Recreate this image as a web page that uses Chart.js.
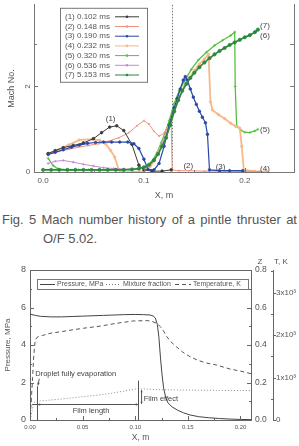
<!DOCTYPE html>
<html>
<head>
<meta charset="utf-8">
<script src="https://cdn.jsdelivr.net/npm/chart.js@4.4.0/dist/chart.umd.min.js"></script>
<style>
body{margin:0;width:299px;height:446px;overflow:hidden;background:#fff;position:relative;font-family:"Liberation Sans",Arial,sans-serif;color:#555}
canvas{position:absolute;left:0}
#top{top:0}
#bot{top:250px}
.cap{position:absolute;font-size:13px;line-height:15px;color:#555}
</style>
</head>
<body>
<canvas id="top" width="299" height="202"></canvas>
<div class="cap" style="left:2px;top:212px;width:295px;text-align:justify;text-align-last:justify">Fig. 5 Mach number history of a pintle thruster at</div>
<div class="cap" style="left:43px;top:231px">O/F 5.02.</div>
<canvas id="bot" width="299" height="196"></canvas>
<script>
// ---- top chart: Mach number vs X ----
const topXTicks = [0, 0.1, 0.2];
const topXMinor = [0.05, 0.15];
const topYTicks = [0, 2];
const topYMinor = [1, 3];
const names = ['(1) 0.102 ms', '(2) 0.148 ms', '(3) 0.190 ms', '(4) 0.232 ms', '(5) 0.320 ms', '(6) 0.536 ms', '(7) 5.153 ms'];

const s1x = [0.005,0.012,0.02,0.03,0.04,0.05,0.058,0.066,0.073,0.08,0.088,0.095,0.1,0.108,0.118,0.127];
const s1y = [0.43,0.5,0.57,0.62,0.68,0.78,0.92,1.05,1.08,0.97,0.65,0.16,0.05,0.02,0.02,0.05];

const s2x = [0.005,0.015,0.025,0.035,0.045,0.055,0.065,0.075,0.085,0.093,0.1,0.105,0.11,0.115,0.12,0.124,0.127,0.128,0.135,0.145,0.16,0.18,0.2,0.215];
const s2y = [0.43,0.48,0.53,0.58,0.62,0.66,0.72,0.8,0.92,1.08,1.2,1.12,0.95,0.84,0.9,1.1,1.2,0.05,0.03,0.03,0.02,0.02,0.01,0.01];

const s3x = [0.005,0.012,0.02,0.028,0.036,0.044,0.052,0.06,0.068,0.076,0.084,0.09,0.095,0.1,0.104,0.11,0.115,0.12,0.125,0.13,0.133,0.136,0.139,0.141,0.143,0.146,0.149,0.152,0.155,0.158,0.161,0.163,0.165,0.175,0.185,0.198];
const s3y = [0.41,0.46,0.52,0.58,0.63,0.67,0.69,0.7,0.7,0.7,0.7,0.66,0.55,0.3,0.06,0.05,0.2,0.6,1.1,1.5,1.72,1.94,2.15,2.23,2.15,1.94,1.75,1.58,1.42,1.28,1.15,0.88,0.05,0.03,0.03,0.03];

const s4x = [0.005,0.015,0.025,0.036,0.049,0.056,0.062,0.067,0.071,0.075,0.078,0.09,0.1,0.106,0.11,0.114,0.118,0.122,0.126,0.13,0.135,0.14,0.145,0.15,0.155,0.16,0.164,0.166,0.168,0.174,0.18,0.186,0.191,0.195,0.197,0.199,0.21,0.222];
const s4y = [0.43,0.52,0.63,0.75,0.77,0.74,0.66,0.5,0.35,0.05,-0.01,0.0,0.02,0.12,0.25,0.45,0.65,0.85,1.1,1.4,1.75,2.0,2.2,2.38,2.52,2.64,2.75,1.64,1.45,1.34,1.25,1.14,1.07,1.03,0.6,0.05,0.02,0.01];

const s5x = [0.005,0.01,0.015,0.025,0.035,0.045,0.055,0.065,0.075,0.085,0.095,0.102,0.108,0.113,0.117,0.121,0.125,0.13,0.135,0.14,0.147,0.154,0.162,0.17,0.178,0.186,0.19,0.1905,0.192,0.196,0.2,0.205,0.21,0.213];
const s5y = [0.32,0.15,0.07,0.05,0.05,0.05,0.05,0.05,0.05,0.06,0.07,0.12,0.25,0.45,0.68,0.92,1.2,1.6,1.9,2.12,2.4,2.62,2.8,2.96,3.08,3.19,3.27,2.0,1.07,0.98,0.93,0.92,0.96,1.0];

const s6x = [0.005,0.012,0.02,0.03,0.04,0.05,0.06,0.07,0.08,0.09,0.1,0.105,0.11,0.114,0.118,0.122,0.126,0.13,0.134,0.138,0.142,0.146,0.15,0.155,0.16,0.165,0.17,0.175,0.18,0.185,0.19,0.195,0.2,0.205,0.21,0.213];
const s6y = [0.2,0.25,0.27,0.23,0.18,0.14,0.1,0.08,0.07,0.07,0.1,0.15,0.27,0.43,0.66,0.9,1.17,1.42,1.66,1.87,2.04,2.19,2.32,2.45,2.57,2.67,2.76,2.84,2.91,2.98,3.04,3.1,3.16,3.21,3.26,3.31];

const s7x = [0.0,0.008,0.016,0.024,0.032,0.04,0.048,0.056,0.064,0.072,0.08,0.088,0.095,0.1,0.105,0.11,0.114,0.118,0.122,0.126,0.13,0.134,0.138,0.142,0.146,0.15,0.155,0.16,0.165,0.17,0.175,0.18,0.185,0.19,0.195,0.2,0.205,0.21,0.213];
const s7y = [0.05,0.05,0.05,0.05,0.05,0.05,0.05,0.05,0.05,0.05,0.05,0.06,0.08,0.11,0.17,0.28,0.42,0.6,0.8,1.1,1.42,1.68,1.9,2.06,2.2,2.32,2.45,2.56,2.66,2.75,2.83,2.9,2.97,3.03,3.09,3.15,3.2,3.27,3.33];

// curve labels
const lblText = ['(1)', '(2)', '(3)', '(4)', '(5)', '(6)', '(7)'];
const lblX = [0.067, 0.144, 0.176, 0.22, 0.22, 0.22, 0.22];
const lblY = [1.25, 0.14, 0.11, 0.07, 0.98, 3.18, 3.41];
const shockX = 0.128;

// ---- bottom chart: pressure, mixture fraction, temperature ----
const botXTicks = [0, 0.05, 0.1, 0.15, 0.2];
const botXMinor = [0.025, 0.075, 0.125, 0.175];
const pTicks = [0, 2, 4, 6, 8];
const pMinor = [1, 3, 5, 7];
const zTicks = [0, 0.2, 0.4, 0.6, 0.8];
const zMinor = [0.1, 0.3, 0.5, 0.7];
const tTicks = [0, 1000, 2000, 3000];
const tMinor = [500, 1500, 2500, 3500];

const presX = [0,0.005,0.01,0.02,0.03,0.04,0.05,0.06,0.07,0.08,0.09,0.1,0.108,0.114,0.117,0.119,0.121,0.1225,0.124,0.1255,0.127,0.129,0.131,0.135,0.14,0.146,0.152,0.16,0.17,0.18,0.19,0.2,0.21];
const presY = [5.65,5.58,5.53,5.5,5.5,5.52,5.54,5.56,5.58,5.6,5.62,5.63,5.62,5.6,5.55,5.45,5.1,4.4,3.3,2.4,1.7,1.2,0.92,0.7,0.53,0.38,0.27,0.18,0.12,0.08,0.05,0.03,0.02];

const mixX = [0,0.001,0.002,0.003,0.004,0.006,0.01,0.02,0.03,0.04,0.05,0.06,0.07,0.08,0.09,0.1,0.104,0.11,0.12,0.14,0.16,0.18,0.2,0.21];
const mixY = [0,0.02,0.05,0.08,0.095,0.1,0.102,0.107,0.112,0.118,0.124,0.13,0.137,0.145,0.155,0.165,0.167,0.165,0.162,0.16,0.159,0.158,0.157,0.157];

const tempX = [0,0.0008,0.0016,0.0025,0.0033,0.0042,0.005,0.0065,0.008,0.012,0.019,0.03,0.04,0.051,0.067,0.082,0.098,0.111,0.116,0.12,0.124,0.127,0.13,0.134,0.139,0.145,0.152,0.16,0.168,0.177,0.19,0.2,0.206,0.21];
const tempY = [100,300,630,1000,1410,1700,1880,1940,1960,1990,2040,2080,2120,2160,2210,2275,2330,2340,2320,2280,2195,2090,1960,1840,1725,1600,1490,1400,1340,1295,1200,1150,1115,1090];

// annotation anchors (data units)
const dropX = 0.0066, filmEndX = 0.103, filmArrowP = 0.85;

Chart.defaults.font.family = "'Liberation Sans', Arial, sans-serif";
Chart.defaults.color = '#555';

function pts(xs, ys) { return xs.map((x, i) => ({x: x, y: ys[i]})); }

function tickMarks(ctx, scale, vals, len, dir) {
  ctx.beginPath();
  vals.forEach(v => {
    const p = Math.round(scale.getPixelForValue(v)) + 0.5;
    if (scale.isHorizontal()) {
      ctx.moveTo(p, scale.top); ctx.lineTo(p, scale.top + dir * len);
    } else {
      const x0 = scale.position === 'left' ? scale.right : scale.left;
      ctx.moveTo(x0, p); ctx.lineTo(x0 + dir * len, p);
    }
  });
  ctx.stroke();
}

function arrowHead(ctx, x, y, ang, s) {
  ctx.beginPath();
  ctx.moveTo(x, y);
  ctx.lineTo(x - s * Math.cos(ang - 0.45), y - s * Math.sin(ang - 0.45));
  ctx.lineTo(x - s * Math.cos(ang + 0.45), y - s * Math.sin(ang + 0.45));
  ctx.closePath();
  ctx.fill();
}

const styles = [
  {c: '#3a3a3a', w: 1, r: 1.3, ps: 'circle'},
  {c: '#f2907c', w: 1, r: 1.3, ps: 'crossRot'},
  {c: '#2848a8', w: 1.2, r: 1.3, ps: 'circle'},
  {c: '#f7b989', w: 1.8, r: 1.2, ps: 'circle'},
  {c: '#55c040', w: 1.3, r: 1.4, ps: 'cross'},
  {c: '#c58ad8', w: 1, r: 0.8, ps: 'circle'},
  {c: '#2a8a3c', w: 1.6, r: 1.6, ps: 'circle'}
];
const topData = [pts(s1x, s1y), pts(s2x, s2y), pts(s3x, s3y), pts(s4x, s4y), pts(s5x, s5y), pts(s6x, s6y), pts(s7x, s7y)];
const drawOrder = [2, 4, 1, 5, 6, 3, 0];

const topDecor = {
  id: 'topDecor',
  beforeDatasetsDraw(chart) {
    const {ctx, chartArea: a, scales: {x}} = chart;
    const dx = Math.round(x.getPixelForValue(shockX)) + 0.5;
    ctx.save();
    ctx.strokeStyle = '#777'; ctx.lineWidth = 1; ctx.setLineDash([1.5, 1.5]);
    ctx.beginPath(); ctx.moveTo(dx, a.top); ctx.lineTo(dx, a.bottom); ctx.stroke();
    ctx.restore();
  },
  afterDraw(chart) {
    const {ctx, chartArea: a, scales: {x, y, yr}} = chart;
    ctx.save();
    ctx.strokeStyle = '#777'; ctx.lineWidth = 1;
    tickMarks(ctx, x, topXTicks, 4, -1);
    tickMarks(ctx, x, topXMinor, 2, -1);
    tickMarks(ctx, y, topYTicks, 4, 1);
    tickMarks(ctx, y, topYMinor, 3, 1);
    tickMarks(ctx, yr, [1, 2, 3], 4, -1);
    // y tick labels
    ctx.fillStyle = '#555'; ctx.font = "8px 'Liberation Sans', Arial";
    ctx.textAlign = 'center'; ctx.textBaseline = 'middle';
    ctx.fillText('0', a.left - 6, y.getPixelForValue(0));
    ctx.save();
    ctx.translate(a.left - 6, y.getPixelForValue(2));
    ctx.rotate(-Math.PI / 2);
    ctx.fillText('2', 0, 0);
    ctx.restore();
    // curve labels
    ctx.fillStyle = '#444';
    lblText.forEach((t, i) => ctx.fillText(t, x.getPixelForValue(lblX[i]), y.getPixelForValue(lblY[i])));
    // legend box
    const lx = a.left + 26, ly = a.top + 3, lw = 87, lh = 74;
    ctx.fillStyle = '#fff';
    ctx.fillRect(lx, ly, lw, lh);
    ctx.strokeStyle = '#777';
    ctx.strokeRect(lx + 0.5, ly + 0.5, lw, lh);
    ctx.textAlign = 'left';
    names.forEach((n, i) => {
      const yy = ly + 9 + i * 9.7;
      const st = styles[i];
      ctx.fillStyle = '#555';
      ctx.fillText(n, lx + 5, yy);
      ctx.strokeStyle = st.c; ctx.fillStyle = st.c; ctx.lineWidth = 1;
      ctx.beginPath(); ctx.moveTo(lx + 55, yy); ctx.lineTo(lx + 79, yy); ctx.stroke();
      ctx.beginPath(); ctx.arc(lx + 67, yy, 1.3, 0, Math.PI * 2); ctx.fill();
    });
    ctx.restore();
  }
};

new Chart(document.getElementById('top'), {
  type: 'line',
  data: {
    datasets: topData.map((d, i) => ({
      label: names[i],
      data: d,
      borderColor: styles[i].c,
      backgroundColor: styles[i].c,
      borderWidth: styles[i].w,
      pointRadius: styles[i].r,
      pointStyle: styles[i].ps,
      pointBorderWidth: 0.8,
      tension: 0,
      order: drawOrder[i]
    }))
  },
  options: {
    responsive: false,
    animation: false,
    layout: {padding: 0},
    plugins: {legend: {display: false}, tooltip: {enabled: false}},
    scales: {
      x: {
        type: 'linear', min: -0.009, max: 0.249,
        afterBuildTicks: s => { s.ticks = topXTicks.map(v => ({value: v})); },
        ticks: {font: {size: 8}, padding: 4, callback: v => v.toFixed(1)},
        grid: {display: false, drawTicks: false},
        border: {color: '#777'},
        title: {display: true, text: 'X, m', font: {size: 9}, padding: {top: 2, bottom: 1}},
        afterFit: s => { s.height = 30; }
      },
      y: {
        min: 0, max: 3.91,
        ticks: {display: false},
        grid: {display: false, drawTicks: false},
        border: {color: '#777'},
        title: {display: true, text: 'Mach No.', font: {size: 9}, padding: {top: 6, bottom: 0}},
        afterFit: s => { s.width = 34; }
      },
      yr: {
        position: 'right', min: 0, max: 3.91,
        ticks: {display: false},
        grid: {display: false, drawTicks: false},
        border: {color: '#777'},
        afterFit: s => { s.width = 2; }
      }
    }
  },
  plugins: [topDecor]
});

const botDecor = {
  id: 'botDecor',
  afterDraw(chart) {
    const {ctx, chartArea: a, scales: {x, p, z, t}} = chart;
    ctx.save();
    ctx.strokeStyle = '#666'; ctx.lineWidth = 1;
    // top frame
    ctx.beginPath(); ctx.moveTo(a.left, a.top + 0.5); ctx.lineTo(a.right, a.top + 0.5); ctx.stroke();
    tickMarks(ctx, x, botXTicks, 4, -1);
    tickMarks(ctx, x, botXMinor, 2, -1);
    tickMarks(ctx, p, pTicks, 4, 1);
    tickMarks(ctx, p, pMinor, 2, 1);
    tickMarks(ctx, z, zTicks, 4, -1);
    tickMarks(ctx, z, zMinor, 2, -1);
    tickMarks(ctx, t, tTicks, 3, 1);
    tickMarks(ctx, t, tMinor, 2, -1);
    // axis headings above right axes
    ctx.fillStyle = '#555'; ctx.font = "8px 'Liberation Sans', Arial";
    ctx.textAlign = 'center'; ctx.textBaseline = 'middle';
    ctx.fillText('Z', z.left + 9, a.top - 8);
    ctx.fillText('T, K', t.left + 8, a.top - 8);
    // legend
    const lx = a.left + 7, ly = a.top + 9, lw = a.right - a.left - 10, lh = 10;
    ctx.strokeStyle = '#777';
    ctx.strokeRect(lx + 0.5, ly + 0.5, lw, lh);
    const my = ly + 5.5;
    ctx.font = "7px 'Liberation Sans', Arial";
    ctx.textAlign = 'left';
    ctx.fillStyle = '#555';
    ctx.strokeStyle = '#444'; ctx.setLineDash([]);
    ctx.beginPath(); ctx.moveTo(a.left + 10, my); ctx.lineTo(a.left + 25, my); ctx.stroke();
    ctx.fillText('Pressure, MPa', a.left + 27, my);
    ctx.strokeStyle = '#777'; ctx.setLineDash([1, 2]);
    ctx.beginPath(); ctx.moveTo(a.left + 76, my); ctx.lineTo(a.left + 91, my); ctx.stroke();
    ctx.fillText('Mixture fraction', a.left + 93, my);
    ctx.strokeStyle = '#555'; ctx.setLineDash([4, 3]);
    ctx.beginPath(); ctx.moveTo(a.left + 145, my); ctx.lineTo(a.left + 161, my); ctx.stroke();
    ctx.fillText('Temperature, K', a.left + 163, my);
    ctx.setLineDash([]);
    // film annotations
    ctx.strokeStyle = '#555'; ctx.fillStyle = '#555'; ctx.lineWidth = 1;
    const x1 = Math.round(x.getPixelForValue(dropX)) + 0.5;
    const x2 = Math.round(x.getPixelForValue(filmEndX)) + 0.5;
    const yb = p.getPixelForValue(0);
    ctx.beginPath();
    ctx.moveTo(x1, p.getPixelForValue(1.8)); ctx.lineTo(x1, yb);
    ctx.moveTo(x2, p.getPixelForValue(2.1)); ctx.lineTo(x2, yb);
    ctx.stroke();
    const ya = Math.round(p.getPixelForValue(filmArrowP)) + 0.5;
    const x0 = x.getPixelForValue(0.002);
    ctx.beginPath(); ctx.moveTo(x0, ya); ctx.lineTo(x2, ya); ctx.stroke();
    arrowHead(ctx, x1, ya, Math.PI, 3);
    arrowHead(ctx, x2, ya, 0, 3);
    // film effect small arrow
    const xe = x.getPixelForValue(0.106);
    const ye1 = p.getPixelForValue(1.6), ye2 = p.getPixelForValue(filmArrowP);
    ctx.beginPath(); ctx.moveTo(xe, ye1); ctx.lineTo(xe, ye2); ctx.stroke();
    arrowHead(ctx, xe, ye1, -Math.PI / 2, 2.5);
    arrowHead(ctx, xe, ye2, Math.PI / 2, 2.5);
    // droplet arrow
    const xs = x.getPixelForValue(0.0088), ys = p.getPixelForValue(2.2);
    const ye = p.getPixelForValue(1.85);
    ctx.beginPath(); ctx.moveTo(xs, ys); ctx.lineTo(x1 + 0.5, ye); ctx.stroke();
    arrowHead(ctx, x1 + 0.5, ye, Math.atan2(ye - ys, x1 + 0.5 - xs), 3);
    // texts
    ctx.font = "7.5px 'Liberation Sans', Arial";
    ctx.fillStyle = '#444';
    ctx.textAlign = 'left';
    ctx.fillText('Droplet fully evaporation', x.getPixelForValue(0.005), p.getPixelForValue(2.45));
    ctx.fillText('Film effect', x.getPixelForValue(0.108), p.getPixelForValue(1.12));
    ctx.textAlign = 'center';
    ctx.fillText('Film length', x.getPixelForValue(0.058), p.getPixelForValue(0.48));
    ctx.restore();
  }
};

new Chart(document.getElementById('bot'), {
  type: 'line',
  data: {
    datasets: [
      {label: 'Pressure, MPa', data: pts(presX, presY), yAxisID: 'p', borderColor: '#444', borderWidth: 1, pointRadius: 0, tension: 0},
      {label: 'Mixture fraction', data: pts(mixX, mixY), yAxisID: 'z', borderColor: '#888', borderWidth: 1, borderDash: [1, 2], pointRadius: 0, tension: 0},
      {label: 'Temperature, K', data: pts(tempX, tempY), yAxisID: 't', borderColor: '#555', borderWidth: 1, borderDash: [4, 3], pointRadius: 0, tension: 0}
    ]
  },
  options: {
    responsive: false,
    animation: false,
    layout: {padding: {top: 20, left: 0, right: 0, bottom: 0}},
    plugins: {legend: {display: false}, tooltip: {enabled: false}},
    scales: {
      x: {
        type: 'linear', min: 0, max: 0.21,
        afterBuildTicks: s => { s.ticks = botXTicks.map(v => ({value: v})); },
        ticks: {font: {size: 6}, padding: 4, callback: v => v.toFixed(2)},
        grid: {display: false, drawTicks: false},
        border: {color: '#666'},
        title: {display: true, text: 'X, m', font: {size: 8.5}, padding: {top: 0, bottom: 3}},
        afterFit: s => { s.height = 26; }
      },
      p: {
        position: 'left', min: 0, max: 8,
        afterBuildTicks: s => { s.ticks = pTicks.map(v => ({value: v})); },
        ticks: {font: {size: 9}, padding: 4},
        grid: {display: false, drawTicks: false},
        border: {color: '#666'},
        title: {display: true, text: 'Pressure, MPa', font: {size: 8}, padding: {top: 3, bottom: 0}},
        afterFit: s => { s.width = 30; }
      },
      z: {
        position: 'right', weight: 0, min: 0, max: 0.8,
        afterBuildTicks: s => { s.ticks = zTicks.map(v => ({value: v})); },
        ticks: {font: {size: 8.5}, padding: 4, callback: v => v.toFixed(1)},
        grid: {display: false, drawTicks: false},
        border: {color: '#666'},
        afterFit: s => { s.width = 22; }
      },
      t: {
        position: 'right', weight: 1, min: 0, max: 3530,
        afterBuildTicks: s => { s.ticks = tTicks.map(v => ({value: v})); },
        ticks: {font: {size: 8}, padding: 3, callback: v => v === 0 ? '0' : (v / 1000) + 'x10³'},
        grid: {display: false, drawTicks: false},
        border: {color: '#666'},
        afterFit: s => { s.width = 26; }
      }
    }
  },
  plugins: [botDecor]
});
</script>
</body>
</html>
